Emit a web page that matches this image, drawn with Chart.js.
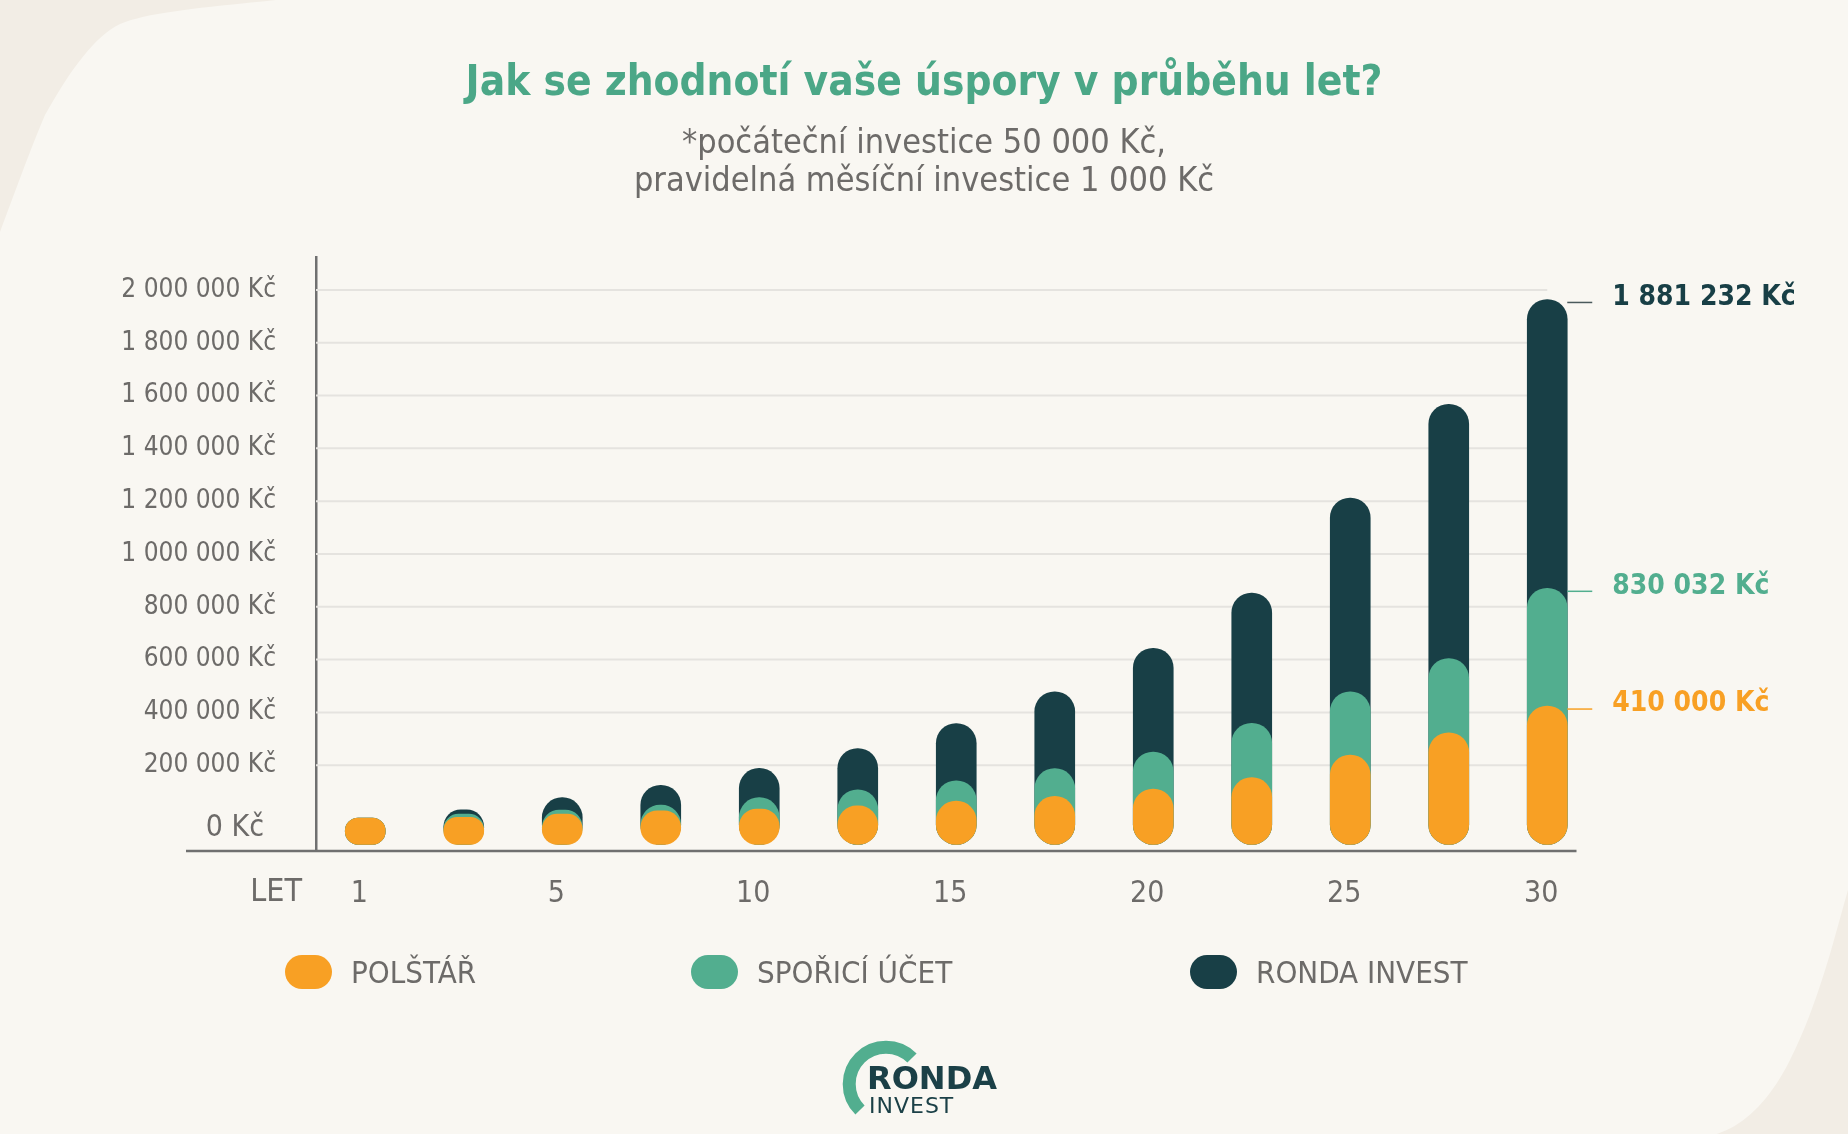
<!DOCTYPE html>
<html lang="cs">
<head>
<meta charset="utf-8">
<title>Jak se zhodnotí vaše úspory v průběhu let?</title>
<script src="https://cdn.jsdelivr.net/npm/chart.js@4.4.1/dist/chart.umd.min.js"></script>
<style>
  html, body { margin: 0; padding: 0; background: #f9f7f2; overflow: hidden; }
  #wrap { position: relative; width: 1848px; height: 1134px; }
  #bg, #myChart, #logo { position: absolute; left: 0; top: 0; }
  #legend { position: absolute; left: 0; top: 955px; width: 1848px; height: 34px;
    font-family: 'Liberation Sans Narrow', 'DejaVu Sans Condensed', sans-serif; font-size: 31px; color: #6d6b69; }
  .item { position: absolute; top: 0; height: 34px; display: flex; align-items: center; white-space: nowrap; }
  .sw { width: 47px; height: 34px; border-radius: 17px; margin-right: 19px; }
</style>
</head>
<body>
<div id="wrap">
  <svg id="bg" width="1848" height="1134">
    <rect width="1848" height="1134" fill="#f9f7f2"/>
    <path d="M0,0 L276,0 C200,8 150,12 120,24 C95,36 70,70 45,115 C30,150 12,200 0,232 Z" fill="#f2ede5"/>
    <path d="M1848,890 C1835,935 1820,1000 1790,1060 C1770,1100 1745,1125 1717,1134 L1848,1134 Z" fill="#f2ede5"/>
  </svg>
  <canvas id="myChart" width="1848" height="1134"></canvas>
  <div id="legend"></div>
  <svg id="logo" width="1848" height="1134">
    <path d="M912,1058 A36,36 0 1 0 860,1110" fill="none" stroke="#52ae8f" stroke-width="13"/>
    <text x="867" y="1089" font-family="'DejaVu Sans', sans-serif" font-weight="bold" font-size="32" fill="#1b4047">RONDA</text>
    <text x="869" y="1113" font-family="'DejaVu Sans', sans-serif" font-size="22" letter-spacing="1" fill="#1b4047">INVEST</text>
  </svg>
</div>
<script>
const ctx = document.getElementById('myChart');

// roky (popisky osy x, jen kazdy druhy sloupec ma cislo)
const years = ['1', '', '5', '', '10', '', '15', '', '20', '', '25', '', '30'];
// vysky sloupcu (Kc)
const polstar = [0, 3000, 15000, 27000, 34000, 46000, 64000, 82000, 110000, 153000, 238000, 323000, 424000];
const sporiciUcet = [0, 15000, 30000, 49000, 77000, 107000, 141000, 187000, 250000, 359000, 478000, 604000, 870000];
const rondaInvest = [0, 31000, 77000, 124000, 188000, 263000, 358000, 478000, 643000, 852000, 1212000, 1567000, 1964000];
// popisky u posledniho sloupce
const endLabels = ['410 000 Kč', '830 032 Kč', '1 881 232 Kč'];
const seriesNames = ['POLŠTÁŘ', 'SPOŘICÍ ÚČET', 'RONDA INVEST'];
const yTicks = [0, 200000, 400000, 600000, 800000, 1000000, 1200000, 1400000, 1600000, 1800000, 2000000];

const colors = ['#f8a024', '#52ae8f', '#183f46'];
const narrow = "'Liberation Sans Narrow', 'DejaVu Sans Condensed', sans-serif";
const gray = '#6d6b69';
const axisColor = '#707070';

function kc(v) {
  return String(v).replace(/\B(?=(\d{3})+(?!\d))/g, ' ') + ' Kč';
}

Chart.defaults.font.family = narrow;
Chart.defaults.color = gray;

const decor = {
  id: 'decor',
  beforeDatasetsDraw(chart) {
    // mrizka konci u posledniho sloupce
    const c = chart.ctx;
    const area = chart.chartArea;
    const y = chart.scales.y;
    const lastX = chart.getDatasetMeta(0).data[years.length - 1].x;
    c.save();
    c.strokeStyle = '#e5e3df';
    c.lineWidth = 2;
    yTicks.filter(v => v > 0).forEach(v => {
      const py = y.getPixelForValue(v);
      c.beginPath();
      c.moveTo(area.left, py);
      c.lineTo(lastX, py);
      c.stroke();
    });
    c.restore();
  },
  afterDatasetsDraw(chart) {
    const c = chart.ctx;
    const area = chart.chartArea;
    const y = chart.scales.y;
    c.save();
    // osa x, presahuje doleva pod popisky
    c.strokeStyle = axisColor;
    c.lineWidth = 2.5;
    c.beginPath();
    c.moveTo(area.left - 130, area.bottom);
    c.lineTo(area.right - 20, area.bottom);
    c.stroke();
    c.fillStyle = gray;
    c.textAlign = 'right';
    c.textBaseline = 'middle';
    // LET
    c.font = '32px ' + narrow;
    c.fillText('LET', area.left - 14, area.bottom + 42);
    // 0 Kc je vetsi a nizsi nez ostatni popisky
    c.font = '30px ' + narrow;
    c.fillText(kc(0), area.left - 52, y.getPixelForValue(0) + 10);
    // hodnoty u posledniho sloupce
    const last = years.length - 1;
    c.textAlign = 'left';
    chart.data.datasets.forEach((ds, i) => {
      const bar = chart.getDatasetMeta(i).data[last];
      const yy = bar.y + 3;
      const x0 = bar.x + bar.width / 2;
      c.strokeStyle = i === 2 ? '#4a5a5c' : ds.backgroundColor;
      c.lineWidth = 1.5;
      c.beginPath();
      c.moveTo(x0, yy);
      c.lineTo(x0 + 25, yy);
      c.stroke();
      c.fillStyle = ds.backgroundColor;
      c.font = 'bold 28px ' + narrow;
      c.fillText(endLabels[i], x0 + 45, yy - 5);
    });
    c.restore();
  }
};

const data = [polstar, sporiciUcet, rondaInvest];

new Chart(ctx, {
  type: 'bar',
  data: {
    labels: years,
    datasets: data.map((d, i) => ({
      label: seriesNames[i],
      data: d,
      backgroundColor: colors[i],
      grouped: false,
      base: -100000,
      barThickness: 40,
      borderRadius: 20,
      borderSkipped: false
    }))
  },
  options: {
    responsive: false,
    animation: false,
    devicePixelRatio: 1,
    // symetricky okraj, aby byl nadpis na stredu
    layout: { padding: { top: 0, left: 86, right: 86, bottom: 203 } },
    plugins: {
      legend: { display: false },
      tooltip: { enabled: false },
      title: {
        display: true,
        text: 'Jak se zhodnotí vaše úspory v průběhu let?',
        color: '#4ba787',
        font: { size: 42, weight: 'bold', lineHeight: 1.2 },
        padding: { top: 59, bottom: 0 }
      },
      subtitle: {
        display: true,
        text: ['*počáteční investice 50 000 Kč,', 'pravidelná měsíční investice 1 000 Kč'],
        color: gray,
        font: { size: 34, lineHeight: 1.12 },
        padding: { top: 16, bottom: 55.4 }
      }
    },
    scales: {
      x: {
        stacked: false,
        grid: { display: false },
        border: { display: false },
        ticks: {
          autoSkip: false,
          maxRotation: 0,
          padding: 17,
          labelOffset: -6,
          color: gray,
          font: { size: 30 }
        },
        afterFit(scale) { scale.height = 80; }
      },
      y: {
        min: -125000,
        max: 2125000,
        afterBuildTicks(scale) { scale.ticks = yTicks.map(v => ({ value: v })); },
        afterFit(scale) { scale.width = 230; },
        grid: { display: false, drawTicks: false },
        border: { color: axisColor, width: 2.5 },
        ticks: {
          padding: 40,
          color: gray,
          font: { size: 26 },
          callback: (v) => (v === 0 ? '' : kc(v))
        }
      },
      // prazdne misto vpravo pro popisky hodnot
      yRight: {
        position: 'right',
        min: -125000,
        max: 2125000,
        grid: { display: false },
        border: { display: false },
        ticks: { display: false },
        afterFit(scale) { scale.width = 165.5; }
      }
    }
  },
  plugins: [decor]
});

// legenda
const lefts = [285, 691, 1190];
const legend = document.getElementById('legend');
seriesNames.forEach((name, i) => {
  const item = document.createElement('div');
  item.className = 'item';
  item.style.left = lefts[i] + 'px';
  item.innerHTML = '<span class="sw" style="background:' + colors[i] + '"></span><span>' + name + '</span>';
  legend.appendChild(item);
});
</script>
</body>
</html>
